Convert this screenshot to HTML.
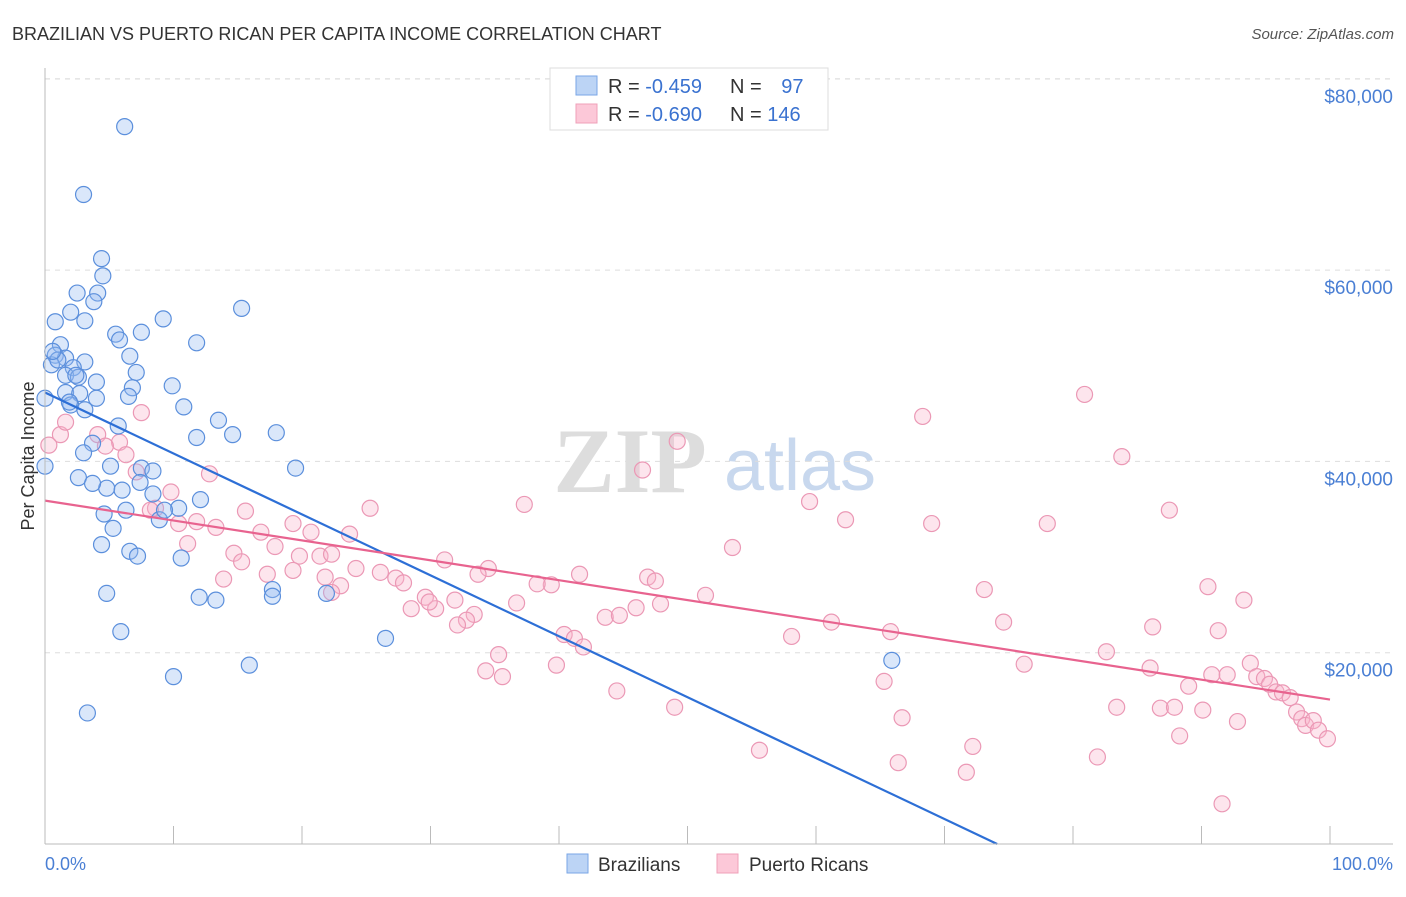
<!DOCTYPE html>
<html><head><meta charset="utf-8"><style>
body{margin:0;background:#fff;font-family:"Liberation Sans",sans-serif;}
</style></head><body>
<svg id="c" width="1406" height="892" xmlns="http://www.w3.org/2000/svg">
<text x="12" y="40" font-size="18" fill="#333">BRAZILIAN VS PUERTO RICAN PER CAPITA INCOME CORRELATION CHART</text>
<text x="1394" y="39" font-size="15" fill="#555" font-style="italic" text-anchor="end">Source: ZipAtlas.com</text>
<text x="34" y="456" font-size="18" fill="#333" text-anchor="middle" transform="rotate(-90 34 456)">Per Capita Income</text>
<g><text x="630" y="492" font-size="92" fill="#ddd" font-family="Liberation Serif" text-anchor="middle" font-weight="bold">ZIP</text><text x="800" y="490" font-size="72" fill="#c8d8ee" text-anchor="middle">atlas</text></g>
<g id="grid"></g><g id="pts"></g><g id="lines"></g>
<line x1="45" y1="844" x2="1393" y2="844" stroke="#bbb"/>
<line x1="45" y1="68" x2="45" y2="844" stroke="#bbb"/>
<text x="45" y="870" font-size="18" fill="#4a7fd4">0.0%</text>
<text x="1393" y="870" font-size="18" fill="#4a7fd4" text-anchor="end">100.0%</text>
<g>
<rect x="550" y="68" width="278" height="62" fill="#fff" stroke="#ddd"/>
<rect x="576" y="76" width="21" height="19" fill="#bcd4f5" stroke="#7aa6e6"/>
<rect x="576" y="104" width="21" height="19" fill="#fcc8d8" stroke="#efa0b9"/>
<text x="608" y="93" font-size="20" fill="#333">R = <tspan fill="#3a72d0">-0.459</tspan></text>
<text x="730" y="93" font-size="20" fill="#333">N = <tspan fill="#3a72d0" dx="14">97</tspan></text>
<text x="608" y="121" font-size="20" fill="#333">R = <tspan fill="#3a72d0">-0.690</tspan></text>
<text x="730" y="121" font-size="20" fill="#333">N = <tspan fill="#3a72d0">146</tspan></text>
</g>
<g><rect x="567" y="854" width="21" height="19" fill="#bcd4f5" stroke="#7aa6e6"/><text x="598" y="871" font-size="19" fill="#333">Brazilians</text></g>
<g><rect x="717" y="854" width="21" height="19" fill="#fcc8d8" stroke="#efa0b9"/><text x="749" y="871" font-size="19" fill="#333">Puerto Ricans</text></g>
</svg>
<script>
const yTicks=[20000,40000,60000,80000];
const yTickLabels=["$20,000","$40,000","$60,000","$80,000"];
const xTicks=[0,10,20,30,40,50,60,70,80,90,100];
const blueX=[6.2,3.0,4.4,4.5,2.5,4.1,3.8,2.0,0.8,3.1,9.2,15.3,5.5,7.5,5.8,11.8,1.2,0.8,1.6,6.6,3.1,0.5,2.2,7.1,1.6,2.6,4.0,9.9,6.8,1.6,2.7,6.5,0,4.0,2.0,3.1,10.8,13.5,5.7,11.8,14.6,18.0,3.7,3.0,5.1,7.5,8.4,19.5,0,2.6,4.8,3.7,6.0,7.4,8.4,12.1,6.3,4.6,8.9,5.3,10.4,9.3,4.4,6.6,7.2,10.6,4.8,12.0,13.3,17.7,17.7,21.9,5.9,26.5,15.9,10.0,3.3,65.9,1.0,2.4,0.6,1.9];
const blueY=[75.0,67.9,61.2,59.4,57.6,57.6,56.7,55.6,54.6,54.7,54.9,56.0,53.3,53.5,52.7,52.4,52.2,51.1,50.8,51.0,50.4,50.1,49.8,49.3,49.0,48.8,48.3,47.9,47.7,47.2,47.1,46.8,46.6,46.6,45.9,45.4,45.7,44.3,43.7,42.5,42.8,43.0,41.9,40.9,39.5,39.3,39.0,39.3,39.5,38.3,37.2,37.7,37.0,37.8,36.6,36.0,34.9,34.5,33.9,33.0,35.1,34.9,31.3,30.6,30.1,29.9,26.2,25.8,25.5,26.6,25.9,26.2,22.2,21.5,18.7,17.5,13.7,19.2,50.6,49.0,51.5,46.2];
const pinkX=[7.5,1.2,0.3,1.6,4.1,5.8,4.7,6.3,12.8,7.1,9.8,8.6,8.2,10.4,11.8,15.6,13.3,16.8,19.3,11.1,14.7,17.9,20.7,23.7,25.3,19.8,21.4,22.3,13.9,15.3,17.3,19.3,21.8,23.0,24.2,26.1,27.3,27.9,29.6,31.1,34.5,33.7,37.3,41.6,39.4,38.3,36.7,31.9,30.4,28.5,33.4,32.8,32.1,29.9,22.3,35.3,34.3,35.6,39.8,40.4,41.2,41.9,43.6,44.7,46.0,47.9,46.9,47.5,46.5,49.2,51.4,44.5,49.0,53.5,55.6,58.1,59.5,61.2,62.3,65.3,65.8,66.4,66.7,68.3,69.0,71.7,72.2,73.1,74.6,76.2,78.0,80.9,82.6,81.9,83.4,83.8,86.0,86.2,86.8,87.5,87.9,88.3,89.0,90.1,90.5,90.8,91.3,91.6,92.0,92.8,93.3,93.8,94.3,94.9,95.3,95.8,96.3,96.9,97.4,97.8,98.1,98.7,99.1,99.8];
const pinkY=[45.1,42.8,41.7,44.1,42.8,42.0,41.6,40.7,38.7,38.9,36.8,35.1,34.9,33.5,33.7,34.8,33.1,32.6,33.5,31.4,30.4,31.1,32.6,32.4,35.1,30.1,30.1,30.3,27.7,29.5,28.2,28.6,27.9,27.0,28.8,28.4,27.8,27.3,25.8,29.7,28.8,28.2,35.5,28.2,27.1,27.2,25.2,25.5,24.6,24.6,24.0,23.4,22.9,25.3,26.3,19.8,18.1,17.5,18.7,21.9,21.5,20.6,23.7,23.9,24.7,25.1,27.9,27.5,39.1,42.1,26.0,16.0,14.3,31.0,9.8,21.7,35.8,23.2,33.9,17.0,22.2,8.5,13.2,44.7,33.5,7.5,10.2,26.6,23.2,18.8,33.5,47.0,20.1,9.1,14.3,40.5,18.4,22.7,14.2,34.9,14.3,11.3,16.5,14.0,26.9,17.7,22.3,4.2,17.7,12.8,25.5,18.9,17.5,17.3,16.7,15.9,15.8,15.3,13.8,13.1,12.4,12.9,11.9,11.0];
const blueTrend=[47.2,-0.637];  // intercept (k$), slope per %
const pinkTrend=[35.9,-0.208];
const NS="http://www.w3.org/2000/svg";
const xs=p=>45+p*12.85, ys=k=>844-k*1000/20000*191.3;
function mk(tag,at,parent){const e=document.createElementNS(NS,tag);for(const k in at)e.setAttribute(k,at[k]);parent.appendChild(e);return e;}
const G=document.getElementById('grid');
yTicks.forEach((v,i)=>{
 const l=mk('line',{x1:45,x2:1393,y1:ys(v/1000),y2:ys(v/1000),stroke:'#ddd','stroke-dasharray':'5,5'},G);
 
 
 const t=mk('text',{x:1393,y:ys(v/1000)+24,'font-size':19,fill:'#4a7fd4','text-anchor':'end'},G);
 t.textContent=yTickLabels[i];
 
 
});
mk('line',{x1:45,x2:1393,y1:79,y2:79,stroke:'#ddd','stroke-dasharray':'5,5'},G);
xTicks.forEach(p=>{
 const l=mk('line',{x1:xs(p),x2:xs(p),y1:826,y2:844,stroke:'#bbb'},G);
 
 
});
const P=document.getElementById('pts');
function dots(X,Y,fill,stroke,name){X.forEach((x,i)=>{
 const c=mk('circle',{cx:xs(x),cy:ys(Y[i]),r:8,fill:fill,stroke:stroke,'stroke-width':1.2},P);
 
 
});}
dots(pinkX,pinkY,'rgba(248,180,202,0.35)','#eb98b5','puerto-rican-point');
dots(blueX,blueY,'rgba(150,185,240,0.35)','#5b8fdc','brazilian-point');
const L=document.getElementById('lines');
const bEnd=(0-blueTrend[0])/blueTrend[1];
const bl=mk('line',{x1:xs(0),y1:ys(blueTrend[0]),x2:xs(bEnd),y2:ys(0),stroke:'#2d6fd6','stroke-width':2.2},L);


const pl=mk('line',{x1:xs(0),y1:ys(pinkTrend[0]),x2:xs(100),y2:ys(pinkTrend[0]+pinkTrend[1]*100),stroke:'#e8638f','stroke-width':2.2},L);


</script>
</body></html>
